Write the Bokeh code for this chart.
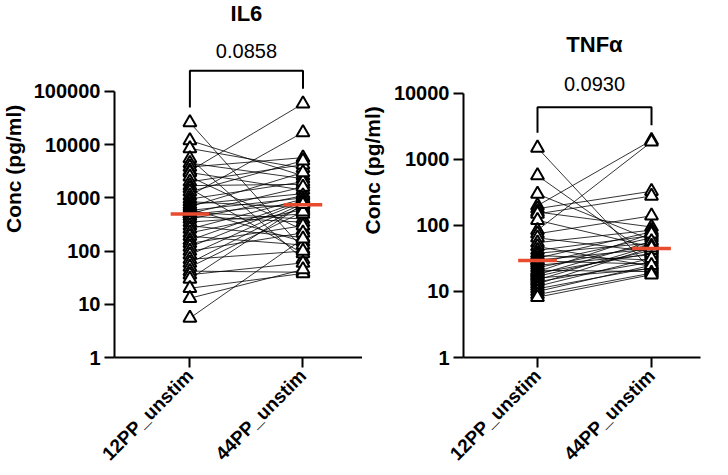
import math
import numpy as np
from bokeh.plotting import figure
from bokeh.layouts import row
from bokeh.models import Range1d, FixedTicker, NumeralTickFormatter
from bokeh.embed import file_html
from bokeh.resources import INLINE
from bokeh.core.properties import value

# ---------------- data ----------------
categories = ["12PP_unstim", "44PP_unstim"]

il6_12pp = [26000, 12000, 8500, 5500, 4500, 3800, 3200, 3000, 2500, 2000, 1700,
            1500, 1300, 1100, 950, 850, 750, 680, 620, 580, 540, 510,
            490, 450, 400, 350, 300, 260, 220, 190, 160, 140, 120, 100,
            85, 70, 60, 50, 42, 36, 30, 20, 13, 5.5]
il6_44pp = [110, 2600, 3600, 70, 2300, 5700, 59000, 1400, 250, 4200, 1800,
            90, 5000, 17000, 2000, 650, 1200, 3000, 150, 1000, 400, 1600,
            800, 350, 1100, 500, 180, 950, 600, 130, 900, 300, 850, 220,
            780, 100, 720, 550, 40, 60, 760, 38, 45, 170]

tnf_12pp = [1500, 570, 300, 200, 180, 160, 150, 120, 85, 75, 65, 55, 48, 42,
            38, 35, 32, 30, 29, 27, 25, 23, 21, 20, 19, 18, 17, 16, 15, 14,
            13, 12, 11, 10, 9, 8.2]
tnf_44pp = [21, 34, 60, 1950, 330, 95, 280, 47, 1850, 140, 40, 85, 24, 70,
            54, 30, 80, 44, 26, 65, 36, 51, 20, 75, 38, 57, 42, 22, 49, 28,
            46, 32, 23, 25, 19, 18]

il6_title = "IL6"
tnf_title = "TNFα"
il6_pvalue = "0.0858"
tnf_pvalue = "0.0930"
y_label = "Conc (pg/ml)"
il6_ticks = [1, 10, 100, 1000, 10000, 100000]
tnf_ticks = [1, 10, 100, 1000, 10000]

FONT = "Liberation Sans"
MEDIAN_COLOR = "#E94B2F"
H = 475
FRAME_H = 357


def label_strip(width, cx, cy):
    """Narrow strip holding the rotated y-axis title (pixel coordinates)."""
    s = figure(width=width, height=H, x_range=Range1d(0, width),
               y_range=Range1d(H, 0), output_backend="svg",
               toolbar_location=None, x_axis_location=None,
               y_axis_location=None, min_border=0)
    s.outline_line_color = None
    s.grid.visible = False
    s.text([cx], [cy], text=[y_label], angle=math.pi / 2,
           text_align="center", text_baseline="middle",
           text_font=value(FONT), text_font_size="21px",
           text_font_style="bold", text_color="black")
    return s


def panel(title, a, b, ticks, pval, width, bl, br, x_start, x_end, y_top_log,
          title_off, pval_off):
    p = figure(width=width, height=H, y_axis_type="log",
               x_range=Range1d(x_start, x_end),
               y_range=Range1d(1, 10 ** y_top_log),
               output_backend="svg", toolbar_location=None,
               min_border_left=bl, min_border_right=br,
               min_border_top=0, min_border_bottom=H - FRAME_H)
    p.outline_line_color = None
    p.grid.visible = False
    p.background_fill_color = "white"
    p.border_fill_color = "white"

    dec = FRAME_H / y_top_log  # px per decade

    xs = [[1, 2] for _ in a]
    ys = [[u, v] for u, v in zip(a, b)]
    p.multi_line(xs, ys, line_color="black", line_width=0.8)

    for xi, vals in ((1, a), (2, b)):
        p.scatter([xi] * len(vals), vals, marker="triangle", size=13,
                  fill_color="white", line_color="black", line_width=2)
        med = float(np.median(vals))
        p.segment(x0=[xi - 0.17], y0=[med], x1=[xi + 0.17], y1=[med],
                  line_color=MEDIAN_COLOR, line_width=3.5)

    # significance bracket
    armL = max(a) * 10 ** (15 / dec)
    armR = max(b) * 10 ** (15 / dec)
    top = max(max(a), max(b)) * 10 ** (33 / dec)
    p.line([1, 1, 2, 2], [armL, top, top, armR], line_color="black",
           line_width=2)
    p.text([1.5], [top], text=[pval], y_offset=pval_off,
           text_align="center", text_baseline="middle",
           text_font=value(FONT), text_font_size="20px", text_color="black")
    p.text([1.5], [top], text=[title], y_offset=title_off,
           text_align="center", text_baseline="middle",
           text_font=value(FONT), text_font_size="22px",
           text_font_style="bold", text_color="black")

    # y axis
    ya = p.yaxis[0]
    ya.ticker = FixedTicker(ticks=ticks, minor_ticks=[])
    ya.formatter = NumeralTickFormatter(format="0")
    ya.bounds = (ticks[0], ticks[-1])
    ya.major_label_text_font_size = "20px"
    ya.major_label_standoff = 4

    # x axis
    xa = p.xaxis[0]
    xa.ticker = FixedTicker(ticks=[1, 2])
    xa.major_label_overrides = {1: categories[0], 2: categories[1]}
    xa.major_label_orientation = math.pi / 4
    xa.major_label_text_font_size = "19px"
    xa.major_label_standoff = 5

    for ax in (xa, ya):
        ax.axis_line_width = 2
        ax.axis_line_color = "black"
        ax.major_tick_line_width = 2
        ax.major_tick_line_color = "black"
        ax.major_tick_out = 10
        ax.major_tick_in = 0
        ax.minor_tick_line_color = None
        ax.major_label_text_font = FONT
        ax.major_label_text_font_style = "bold"
        ax.major_label_text_color = "black"
    return p


lab1 = label_strip(30, 13, 224)
p1 = panel(il6_title, il6_12pp, il6_44pp, il6_ticks, il6_pvalue,
           width=332, bl=82, br=0, x_start=1 - 76 / 114, x_end=2 + 60 / 114,
           y_top_log=6.71, title_off=-57, pval_off=-20)
lab2 = label_strip(24, 10, 226)
p2 = panel(tnf_title, tnf_12pp, tnf_44pp, tnf_ticks, tnf_pvalue,
           width=342, bl=77, br=28, x_start=1 - 74 / 114, x_end=2 + 49 / 114,
           y_top_log=5.409, title_off=-63, pval_off=-23)

layout = row(lab1, p1, lab2, p2)
open("out.html", "w").write(file_html(layout, INLINE))
